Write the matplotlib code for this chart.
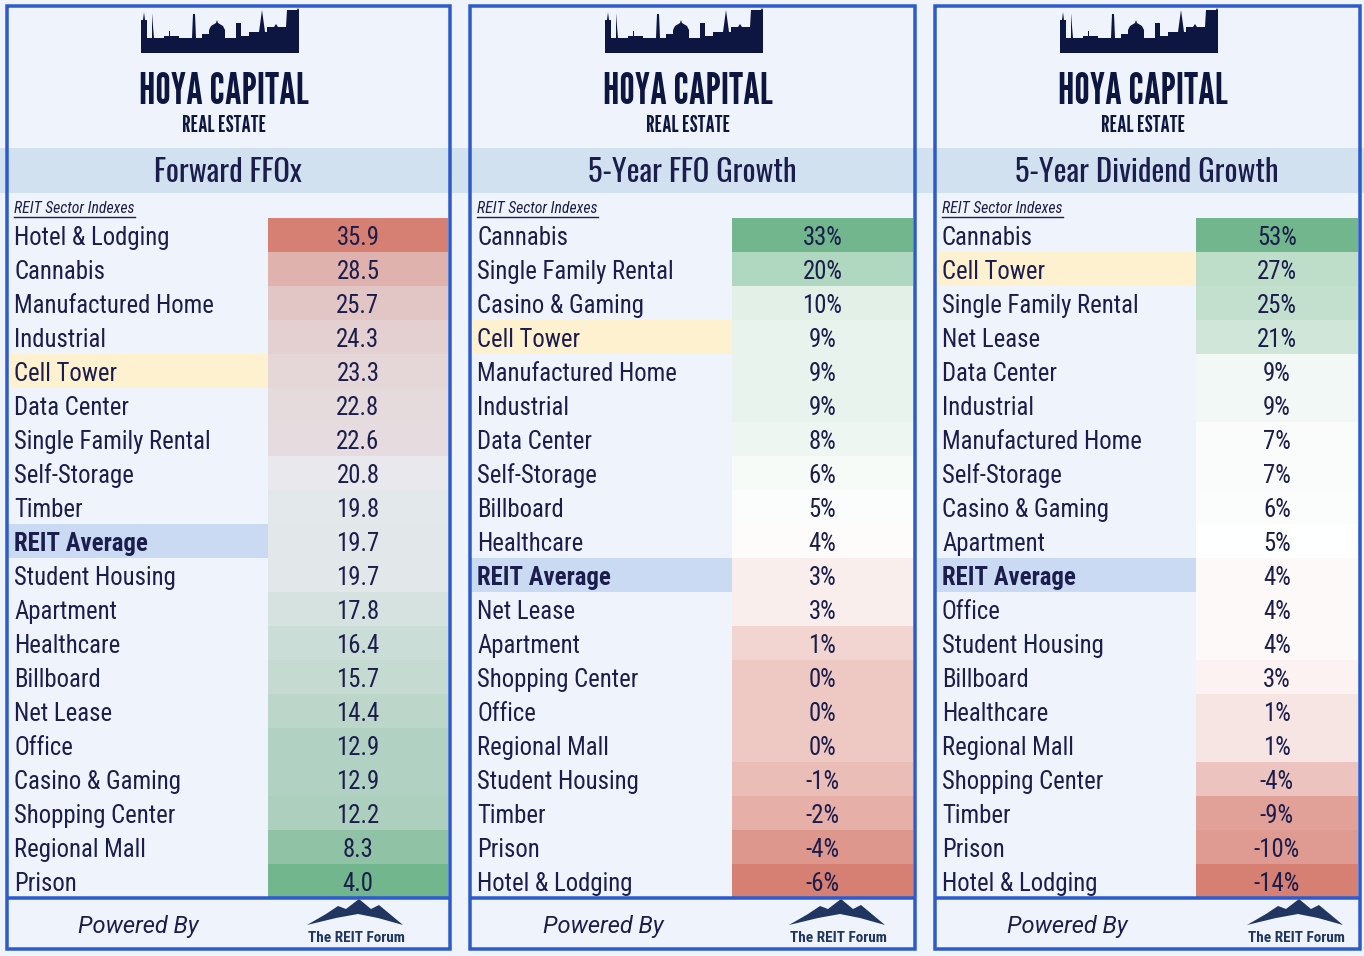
import numpy as np
import matplotlib
matplotlib.use("Agg")
import matplotlib.pyplot as plt
from matplotlib.colors import LinearSegmentedColormap, TwoSlopeNorm
from matplotlib.patches import Rectangle, Polygon

W, H = 1364, 956

titles = ["Forward FFOx", "5-Year FFO Growth", "5-Year Dividend Growth"]

ffox_sectors = ["Hotel & Lodging", "Cannabis", "Manufactured Home", "Industrial",
                "Cell Tower", "Data Center", "Single Family Rental", "Self-Storage",
                "Timber", "REIT Average", "Student Housing", "Apartment", "Healthcare",
                "Billboard", "Net Lease", "Office", "Casino & Gaming", "Shopping Center",
                "Regional Mall", "Prison"]
ffox_values = [35.9, 28.5, 25.7, 24.3, 23.3, 22.8, 22.6, 20.8, 19.8, 19.7,
               19.7, 17.8, 16.4, 15.7, 14.4, 12.9, 12.9, 12.2, 8.3, 4.0]

ffo_growth_sectors = ["Cannabis", "Single Family Rental", "Casino & Gaming", "Cell Tower",
                      "Manufactured Home", "Industrial", "Data Center", "Self-Storage",
                      "Billboard", "Healthcare", "REIT Average", "Net Lease", "Apartment",
                      "Shopping Center", "Office", "Regional Mall", "Student Housing",
                      "Timber", "Prison", "Hotel & Lodging"]
ffo_growth_values = [33, 20, 10, 9, 9, 9, 8, 6, 5, 4, 3, 3, 1, 0, 0, 0, -1, -2, -4, -6]

div_growth_sectors = ["Cannabis", "Cell Tower", "Single Family Rental", "Net Lease",
                      "Data Center", "Industrial", "Manufactured Home", "Self-Storage",
                      "Casino & Gaming", "Apartment", "REIT Average", "Office",
                      "Student Housing", "Billboard", "Healthcare", "Regional Mall",
                      "Shopping Center", "Timber", "Prison", "Hotel & Lodging"]
div_growth_values = [53, 27, 25, 21, 9, 9, 7, 7, 6, 5, 4, 4, 4, 3, 1, 1, -4, -9, -10, -14]

# colour-scale midpoints and value formats per panel
midpoints = [20.5, 4.3, 4.8]
formats = ["{:.1f}", "{:.0f}%", "{:.0f}%"]

NAVY = "#1b1d4c"
LOGO = "#0d1640"
BG = "#eff4fc"
BAND = "#d1e1f0"
BORDER = "#2d5bcb"
RED = "#d67f73"
GREEN = "#71b68c"
HILITE = {"Cell Tower": "#fdf1d0", "REIT Average": "#cbdaf3"}

LABEL_FONT = ["Roboto Condensed", "DejaVu Sans"]
LOGO_FONT = ["League Gothic", "DejaVu Sans"]

# layout (pixels): border centre lines, value column start, footer spots
geo = [dict(x0=6.5, x1=449.5, vx=268, pb=138, tf=356),
       dict(x0=469.5, x1=914.5, vx=732, pb=603, tf=838),
       dict(x0=934.5, x1=1359.5, vx=1196, pb=1067, tf=1296)]
TOP, BOT, FOOT = 6, 949, 897.5
ROW0, ROWH = 218, 34
BW = 3.5

fig = plt.figure(figsize=(W / 100, H / 100), dpi=100, facecolor=BG)
bg = fig.add_axes([0, 0, 1, 1])
bg.set_xlim(0, W); bg.set_ylim(H, 0); bg.axis("off")
bg.add_patch(Rectangle((0, 148), W, 45, color=BAND, lw=0))

# skyline outline (relative to logo centre, y in px)
sky = [(-83, 53), (-83, 20), (-81, 20), (-80, 12), (-79, 20), (-77, 20), (-77, 38),
       (-72, 38), (-72, 26), (-71.5, 13), (-71, 26), (-70, 38), (-60, 38), (-60, 36),
       (-55, 36), (-55, 31), (-54, 31), (-54, 36), (-45, 36), (-45, 38), (-32, 38),
       (-31, 14), (-29, 14), (-28, 38), (-22, 38), (-22, 34), (-15, 34), (-15, 30),
       (-13, 26), (-8, 23), (-7, 20), (-6, 23), (-1, 26), (1, 30), (1, 38), (12, 38),
       (12, 23), (17, 23), (17, 36), (25, 36), (25, 32), (35, 32), (38, 10), (41, 32),
       (43, 32), (43, 27), (50, 27), (52, 24), (54, 27), (62, 27), (63, 10), (73, 10),
       (74, 8), (75, 10), (75, 53)]
mountain = [(-49, 25), (-30, 14), (-18, 6), (-10, 9), (3, -1), (15, 9), (23, 5),
            (47, 25), (22, 18), (2, 14), (-20, 18)]

for k, (g, title) in enumerate(zip(geo, titles)):
    x0, x1 = g["x0"], g["x1"]
    cx = (x0 + x1) / 2
    # logo
    bg.add_patch(Polygon([(cx - 4 + dx, y) for dx, y in sky], closed=True,
                         color=LOGO, lw=0))
    bg.text(cx - 4, 104, "HOYA CAPITAL", ha="center", va="baseline", color=LOGO,
            fontsize=31, family=LOGO_FONT)
    bg.text(cx - 4, 132, "REAL ESTATE", ha="center", va="baseline", color=LOGO,
            fontsize=17, family=LOGO_FONT)
    bg.text(cx, 182, title, ha="center", va="baseline", color=NAVY,
            fontsize=22, family=["Oswald", "DejaVu Sans"])
    ri = bg.text(x0 + 7.5, 213, "REIT Sector Indexes", ha="left", va="baseline",
                 color=NAVY, fontsize=11.3, style="italic", family=LABEL_FONT)
    g["ri"] = ri
    # footer
    bg.text(g["pb"], 933, "Powered By", ha="center", va="baseline", color=NAVY,
            fontsize=17, style="italic", family=["Roboto", "DejaVu Sans"])
    bg.add_patch(Polygon([(g["tf"] + dx, 900 + dy) for dx, dy in mountain],
                         closed=True, color="#203560", lw=0))
    bg.text(g["tf"], 942, "The REIT Forum", ha="center", va="baseline",
            color="#203560", fontsize=11, weight="bold", family=LABEL_FONT)

# tables
tables = [(ffox_sectors, ffox_values), (ffo_growth_sectors, ffo_growth_values),
          (div_growth_sectors, div_growth_values)]
for k, ((sectors, values), g) in enumerate(zip(tables, geo)):
    vals = np.array(values, dtype=float)
    n = len(sectors)
    xin, xout = g["x0"] + BW / 2, g["x1"] - BW / 2
    ax = fig.add_axes([xin / W, 1 - (ROW0 + n * ROWH) / H, (xout - xin) / W, n * ROWH / H])
    ax.set_xlim(xin, xout); ax.set_ylim(n - 0.5, -0.5); ax.axis("off")
    ax.patch.set_alpha(0)
    cols = [RED, "#e8eaef", GREEN] if k == 0 else [RED, "#ffffff", GREEN]
    cmap = LinearSegmentedColormap.from_list(f"c{k}", cols)
    if k == 0:
        cmap = cmap.reversed()
    norm = TwoSlopeNorm(midpoints[k], vmin=vals.min(), vmax=vals.max())
    y = np.arange(n)
    ax.barh(y, xout - g["vx"], left=g["vx"], height=1.0, color=cmap(norm(vals)), lw=0)
    hl = [HILITE.get(s, "none") for s in sectors]
    ax.barh(y, g["vx"] - xin, left=xin, height=1.0, color=hl, lw=0)
    vc = (g["vx"] + xout) / 2
    for i, (s, v) in enumerate(zip(sectors, vals)):
        bold = s == "REIT Average"
        ax.text(g["x0"] + 7.5, i + 0.29, s, ha="left", va="baseline", color=NAVY,
                fontsize=17.8, weight="bold" if bold else "normal", family=LABEL_FONT)
        ax.text(vc, i + 0.29, formats[k].format(v), ha="center", va="baseline",
                color=NAVY, fontsize=17.8, family=LABEL_FONT)

# borders on top
top = fig.add_axes([0, 0, 1, 1])
top.set_xlim(0, W); top.set_ylim(H, 0); top.axis("off"); top.patch.set_alpha(0)
lw = BW * 72 / 100
for g in geo:
    top.add_patch(Rectangle((g["x0"], TOP), g["x1"] - g["x0"], BOT - TOP, fill=False,
                            ec=BORDER, lw=lw))
    top.plot([g["x0"], g["x1"]], [FOOT, FOOT], color=BORDER, lw=lw, solid_capstyle="butt")

# underline the "REIT Sector Indexes" captions
fig.canvas.draw()
inv = bg.transData.inverted()
for g in geo:
    bb = g["ri"].get_window_extent()
    (xa, _), (xb, _) = inv.transform([(bb.x0, 0), (bb.x1, 0)])
    bg.plot([xa, xb], [216.5, 216.5], color=NAVY, lw=1.0)

fig.savefig("out.png", dpi=100, facecolor=BG)
